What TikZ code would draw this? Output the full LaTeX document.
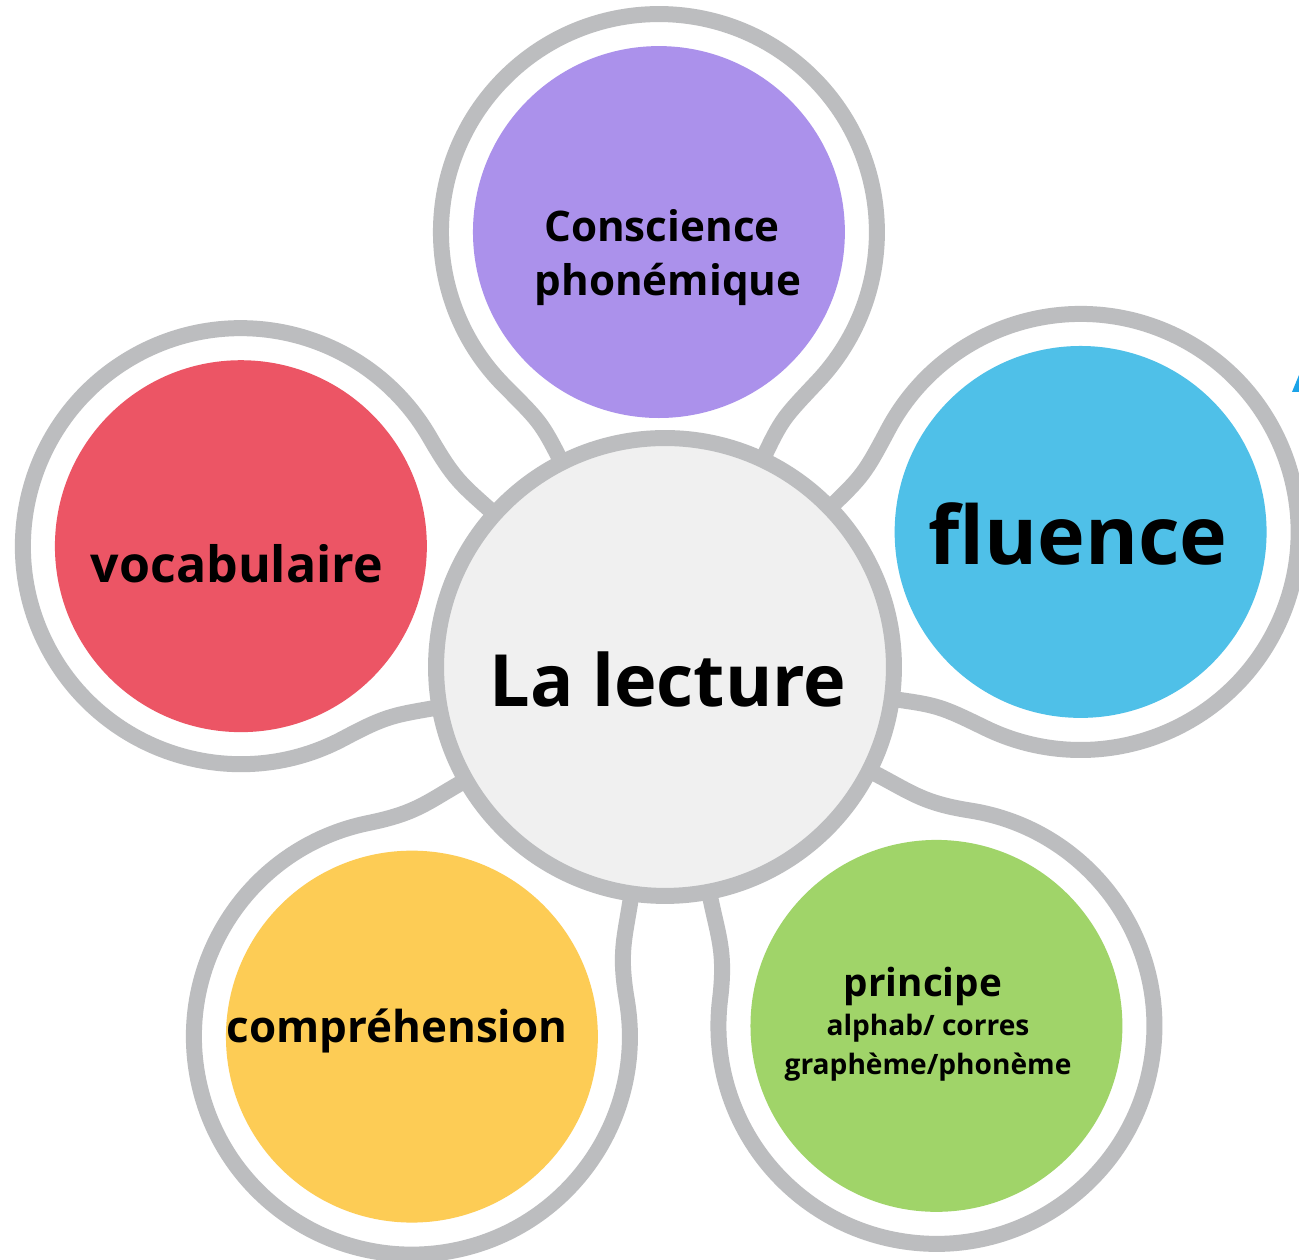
\documentclass[tikz,border=0pt]{standalone}
\usepackage{fontspec}
\setmainfont{Open Sans}
\usetikzlibrary{calc}
\definecolor{ringgray}{HTML}{BCBDBF}
\definecolor{centerfill}{HTML}{F0F0F0}
\definecolor{cpurple}{HTML}{AB91EB}
\definecolor{cblue}{HTML}{4FC0E8}
\definecolor{cred}{HTML}{EC5565}
\definecolor{cyellow}{HTML}{FDCC55}
\definecolor{cgreen}{HTML}{A0D469}
\definecolor{cartifact}{HTML}{1AA3E8}
% #1 angle from centre, #2 distance, #3 name
\newcommand\flowerpetal[3]{%
  \coordinate (#3) at ($(C0)+({#1}:{#2})$);
  \draw[ringline]
    ($(C0)+({#1-26}:229)$)
    .. controls ($(C0)+({#1-26}:275)$) and ($(#3)+({#1-134}:218)+({#1+136}:50)$)
    .. ($(#3)+({#1-134}:218)$)
    arc[start angle={#1-134}, end angle={#1+134}, radius=218]
    .. controls ($(#3)+({#1+134}:218)+({#1+224}:50)$) and ($(C0)+({#1+26}:275)$)
    .. ($(C0)+({#1+26}:229)$);
}
\begin{document}
\begin{tikzpicture}[x=0.02cm,y=0.02cm,
  ringline/.style={draw=ringgray, line width=0.32cm},
  petalfill/.style={circle, minimum size=7.44cm, inner sep=0pt, draw=none},
  lbl/.style={anchor=base, inner sep=0pt, font=\bfseries}]
\useasboundingbox (0,0) rectangle (1299,1260);
\fill[white] (0,0) rectangle (1299,1260);
\coordinate (C0) at (665,593);
\flowerpetal{90.8}{435}{Ppurple}
\flowerpetal{18.0}{437}{Pblue}
\flowerpetal{164.1}{441}{Pred}
\flowerpetal{235.6}{448}{Pyellow}
\flowerpetal{307.1}{450}{Pgreen}
\node[petalfill, fill=cpurple] (purple) at (Ppurple) {};
\node[petalfill, fill=cblue] (blue) at (Pblue) {};
\node[petalfill, fill=cred] (red) at (Pred) {};
\node[petalfill, fill=cyellow] (yellow) at (Pyellow) {};
\node[petalfill, fill=cgreen] (green) at (Pgreen) {};
\node[circle, minimum size=9.16cm, inner sep=0pt, fill=centerfill, draw=ringgray, line width=0.32cm] (center) at (C0) {};
% texts
\node[lbl, font=\bfseries\fontsize{41}{45}\selectfont] (tlecture) at (668,553) {La lecture};
\node[lbl, font=\bfseries\fontsize{24}{28}\selectfont] (tconsc) at (662,1018) {Conscience};
\node[lbl, font=\bfseries\fontsize{24}{28}\selectfont] (tphon) at (668,964) {phonémique};
\node[lbl, font=\bfseries\fontsize{46}{50}\selectfont] (tflu) at (1078,695) {fluence};
\node[lbl, font=\bfseries\fontsize{28.5}{32}\selectfont] (tvoc) at (237,677) {vocabulaire};
\node[lbl, font=\bfseries\fontsize{25}{28}\selectfont] (tcomp) at (397,217) {compréhension};
\node[lbl, font=\bfseries\fontsize{22}{25}\selectfont] (tprin) at (923,263) {principe};
\node[lbl, font=\bfseries\fontsize{16}{19}\selectfont] (talph) at (928,224) {alphab/ corres};
\node[lbl, font=\bfseries\fontsize{16}{19}\selectfont] (tgraph) at (928,185) {graphème/phonème};
% cropped blue mark at right edge
\fill[cartifact] (1292,868) -- (1299,885) -- (1299,868) -- cycle;
\end{tikzpicture}
\end{document}
